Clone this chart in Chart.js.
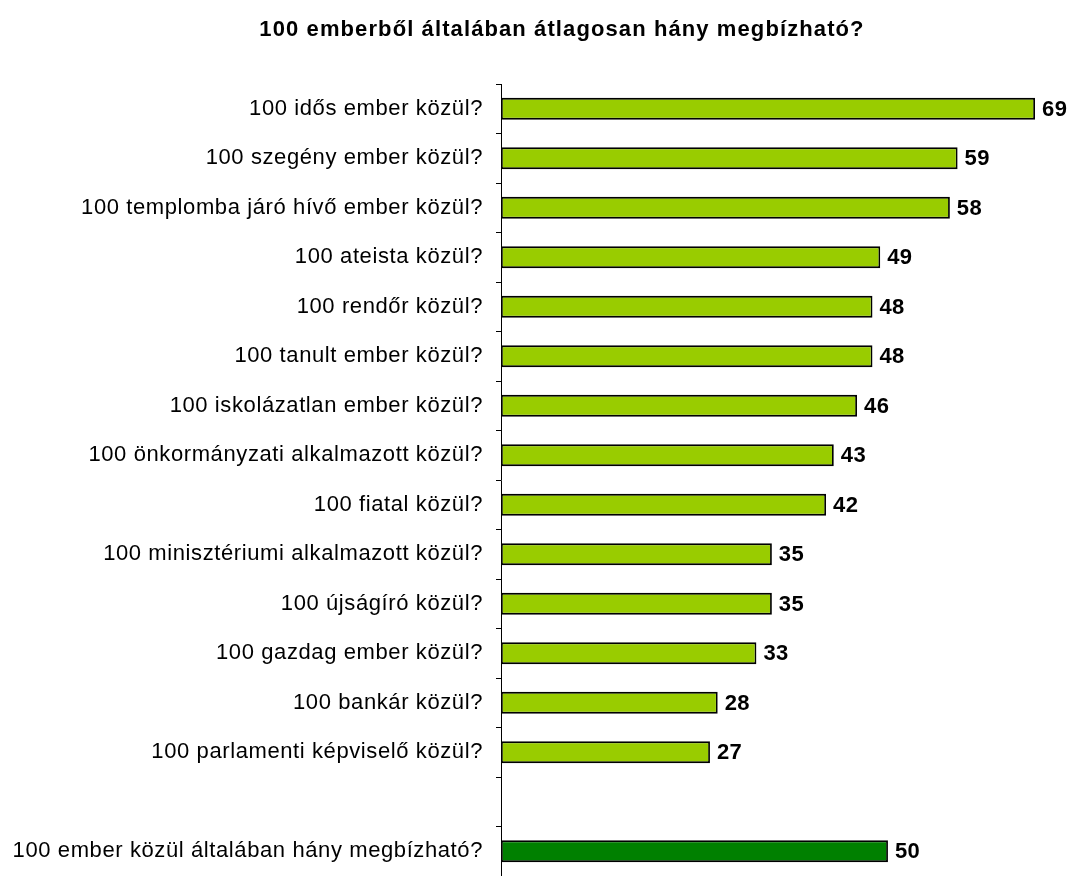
<!DOCTYPE html>
<html>
<head>
<meta charset="utf-8">
<script src="https://cdn.jsdelivr.net/npm/chart.js@4.4.1/dist/chart.umd.min.js"></script>
<style>
  html, body { margin: 0; padding: 0; background: #fff; }
  #wrap { width: 1069px; height: 876px; }
</style>
</head>
<body>
<div id="wrap"><canvas id="trustChart" width="1069" height="876"></canvas></div>
<script>
const chartTitle = "100 emberből általában átlagosan hány megbízható?";

const categories = [
  "100 idős ember közül?",
  "100 szegény ember közül?",
  "100 templomba járó hívő ember közül?",
  "100 ateista közül?",
  "100 rendőr közül?",
  "100 tanult ember közül?",
  "100 iskolázatlan ember közül?",
  "100 önkormányzati alkalmazott közül?",
  "100 fiatal közül?",
  "100 minisztériumi alkalmazott közül?",
  "100 újságíró közül?",
  "100 gazdag ember közül?",
  "100 bankár közül?",
  "100 parlamenti képviselő közül?",
  "",
  "100 ember közül általában hány megbízható?"
];

const values = [69, 59, 58, 49, 48, 48, 46, 43, 42, 35, 35, 33, 28, 27, null, 50];

const fontFamily = '"Liberation Sans", Arial, Helvetica, sans-serif';
const lightGreen = "#99cc00";
const darkGreen = "#008000";

const barColors = categories.map((c, i) => (i === categories.length - 1 ? darkGreen : lightGreen));

// the original text runs a bit wider than Liberation Sans
const widenText = {
  id: "widenText",
  beforeDraw(chart) {
    chart.ctx.letterSpacing = "0.6px";
  }
};

const titlePlugin = {
  id: "customTitle",
  afterDraw(chart) {
    const ctx = chart.ctx;
    ctx.save();
    ctx.letterSpacing = "1.1px";
    ctx.font = `bold 22px ${fontFamily}`;
    ctx.fillStyle = "#000";
    ctx.textAlign = "center";
    ctx.textBaseline = "middle";
    ctx.fillText(chartTitle, 562, 30);
    ctx.restore();
  }
};

const valueLabels = {
  id: "valueLabels",
  afterDatasetsDraw(chart) {
    const ctx = chart.ctx;
    const meta = chart.getDatasetMeta(0);
    ctx.save();
    ctx.letterSpacing = "0.4px";
    ctx.font = `bold 22px ${fontFamily}`;
    ctx.fillStyle = "#000";
    ctx.textAlign = "left";
    ctx.textBaseline = "middle";
    meta.data.forEach((bar, i) => {
      if (values[i] === null) return;
      ctx.fillText(String(values[i]), bar.x + 7, bar.y + 1);
    });
    ctx.restore();
  }
};

new Chart(document.getElementById("trustChart"), {
  type: "bar",
  data: {
    labels: categories,
    datasets: [
      {
        data: values,
        backgroundColor: barColors,
        borderColor: "#000",
        borderWidth: 1.8,
        borderSkipped: false,
        categoryPercentage: 1,
        barPercentage: 0.44
      }
    ]
  },
  options: {
    indexAxis: "y",
    responsive: false,
    animation: false,
    devicePixelRatio: 1,
    layout: {
      padding: { top: 84, right: 34, bottom: 0, left: 0 }
    },
    plugins: {
      legend: { display: false },
      title: { display: false },
      tooltip: { enabled: false }
    },
    scales: {
      x: {
        display: false,
        min: 0,
        max: 69
      },
      y: {
        afterFit(scale) {
          scale.width = 501;
          scale.paddingTop = 0;
          scale.paddingBottom = 0;
        },
        border: { display: true, color: "#000", width: 1 },
        grid: {
          offset: true,
          drawOnChartArea: false,
          drawTicks: true,
          tickLength: 5,
          color: "#000"
        },
        ticks: {
          color: "#000",
          padding: 13,
          autoSkip: false,
          font: { family: fontFamily, size: 22 }
        }
      }
    }
  },
  plugins: [widenText, titlePlugin, valueLabels]
});
</script>
</body>
</html>
